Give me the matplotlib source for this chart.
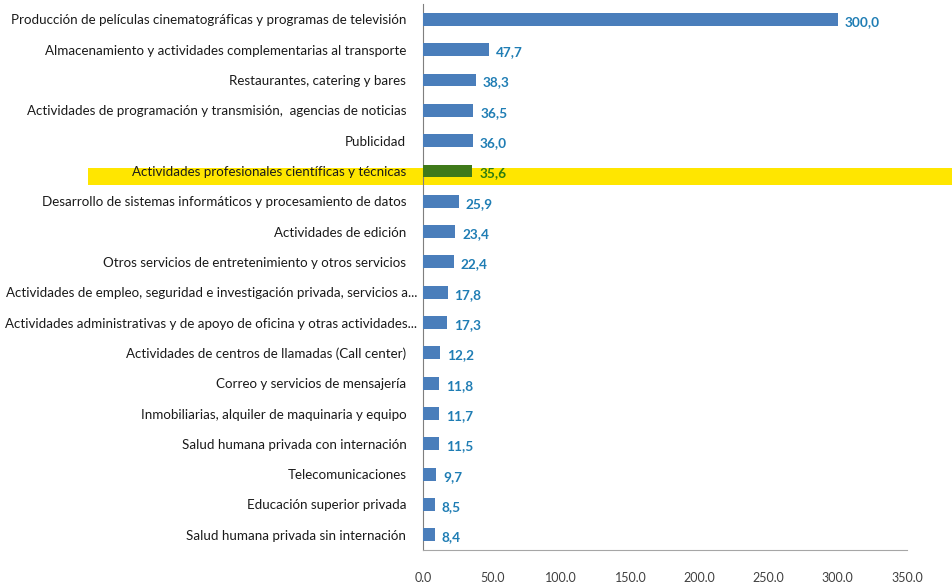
import matplotlib
matplotlib.use("Agg")
from matplotlib import pyplot as plt
from matplotlib import transforms
from matplotlib.patches import Rectangle

categories = [
    "Producción de películas cinematográficas y programas de televisión",
    "Almacenamiento y actividades complementarias al transporte",
    "Restaurantes, catering y bares",
    "Actividades de programación y transmisión,  agencias de noticias",
    "Publicidad",
    "Actividades profesionales científicas y técnicas",
    "Desarrollo de sistemas informáticos y procesamiento de datos",
    "Actividades de edición",
    "Otros servicios de entretenimiento y otros servicios",
    "Actividades de empleo, seguridad e investigación privada, servicios a...",
    "Actividades administrativas y de apoyo de oficina y otras actividades...",
    "Actividades de centros de llamadas (Call center)",
    "Correo y servicios de mensajería",
    "Inmobiliarias, alquiler de maquinaria y equipo",
    "Salud humana privada con internación",
    "Telecomunicaciones",
    "Educación superior privada",
    "Salud humana privada sin internación",
]
values = [300.0, 47.7, 38.3, 36.5, 36.0, 35.6, 25.9, 23.4, 22.4, 17.8,
          17.3, 12.2, 11.8, 11.7, 11.5, 9.7, 8.5, 8.4]
highlight = 5
xticks = [0, 50, 100, 150, 200, 250, 300, 350]

plt.rcParams['font.family'] = ['Lato', 'DejaVu Sans']

fig = plt.figure(figsize=(9.52, 5.82), dpi=100)
ax = fig.add_axes([0.4443, 0.055, 0.5084, 0.938])
ax.set_facecolor("none")

blue = "#4a7ebb"
green = "#3f7a1a"
colors = [green if i == highlight else blue for i in range(len(values))]
ypos = list(range(len(values)))
ax.barh(ypos, values, height=0.42, color=colors, zorder=3)

# yellow highlight band across the row
tr = transforms.blended_transform_factory(fig.transFigure, ax.transData)
band = Rectangle((88 / 952, highlight - 0.08), 1.0, 0.56, transform=tr,
                 facecolor="#ffe600", edgecolor="none", clip_on=False, zorder=1)
ax.add_patch(band)

for i, v in enumerate(values):
    c = "#2e7d10" if i == highlight else "#1f7db4"
    ax.text(v + 5, i + 0.08, f"{v:.1f}".replace(".", ","), va="center", ha="left",
            fontsize=9.8, fontweight="bold", color=c, zorder=4)

ax.set_ylim(len(values) - 0.5, -0.5)
ax.set_xlim(0, 350)
ax.set_yticks(ypos)
ax.set_yticklabels(categories, fontsize=9.6, color="#1a1a1a")
ax.set_xticks(xticks)
ax.set_xticklabels([f"{t:.1f}".replace(".", ",") for t in xticks], fontsize=9, color="#404040")
ax.tick_params(axis="both", length=0)
ax.tick_params(axis="y", pad=12)
ax.tick_params(axis="x", pad=15)

# the two truncated labels sit closer to the axis
for lab in ax.get_yticklabels():
    if lab.get_text().endswith("..."):
        lab.set_transform(lab.get_transform() +
                          transforms.ScaledTranslation(0.11, 0, fig.dpi_scale_trans))

ax.spines["top"].set_visible(False)
ax.spines["right"].set_visible(False)
ax.spines["left"].set_color("#7f7f7f")
ax.spines["bottom"].set_color("#a6a6a6")
ax.spines["left"].set_zorder(2)

fig.savefig("out.png", dpi=100)
